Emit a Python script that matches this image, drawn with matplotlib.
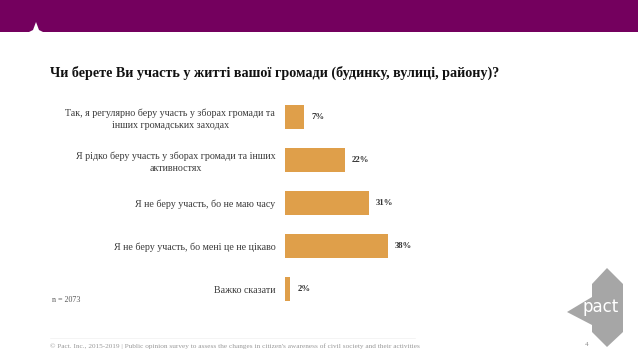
import matplotlib.pyplot as plt
from matplotlib.patches import Polygon, Rectangle

categories = [
    "Так, я регулярно беру участь у зборах громади та\nінших громадських заходах",
    "Я рідко беру участь у зборах громади та інших\nактивностях",
    "Я не беру участь, бо не маю часу",
    "Я не беру участь, бо мені це не цікаво",
    "Важко сказати",
]
values = [7, 22, 31, 38, 2]
value_labels = ["7%", "22%", "31%", "38%", "2%"]

title = "Чи берете Ви участь у житті вашої громади (будинку, вулиці, району)?"
footer = ("© Pact. Inc., 2015-2019 | Public opinion survey to assess the changes "
          "in citizen's awareness of civil society and their activities")

W, H = 638, 359
purple = "#74005E"
bar_col = "#DF9F4A"
serif = ["Liberation Serif", "DejaVu Serif"]

fig = plt.figure(figsize=(W / 100, H / 100), dpi=100)

# background layer in pixel coordinates
bg = fig.add_axes([0, 0, 1, 1])
bg.set_xlim(0, W)
bg.set_ylim(H, 0)
bg.axis("off")
bg.add_patch(Rectangle((0, 0), W, 32, color=purple, lw=0))
bg.add_patch(Polygon([(28, 32.5), (33, 30), (36, 22), (39, 30), (44, 32.5)],
                     closed=True, color="white", lw=0))

# pact logo
logo = [(607, 268), (623, 284), (623, 332), (607, 347), (592, 332),
        (592, 325), (567, 312), (592, 297), (592, 284)]
bg.add_patch(Polygon(logo, closed=True, color="#A6A6A6", lw=0))
bg.text(601, 307, "pact", color="white", fontsize=12, family="DejaVu Sans",
        ha="center", va="center")
bg.text(587, 344, "4", color="#8C8C8C", fontsize=5, family=serif,
        ha="center", va="center")

bg.text(50, 73, title, fontsize=10.2, fontweight="bold", family=serif,
        ha="left", va="center", color="#111111")
bg.text(52, 300, "n = 2073", fontsize=5.8, family=serif, ha="left",
        va="center", color="#555555")
bg.plot([50, 415], [338, 338], color="#F0F0F0", lw=0.5)
bg.text(50, 346, footer, fontsize=5.2, family=serif, ha="left",
        va="center", color="#999999")

# bar chart
x0, y0, aw, ah = 285, 95, 300, 216
ax = fig.add_axes([x0 / W, 1 - (y0 + ah) / H, aw / W, ah / H])
ax.patch.set_alpha(0)
pos = list(range(len(values)))
ax.barh(pos, values, height=0.56, color=bar_col)
ax.set_xlim(0, aw / 2.71)
ax.set_ylim(len(values) - 0.5, -0.5)
ax.set_yticks(pos)
ax.set_yticklabels(categories, fontsize=7.2, family=serif, color="#3A3A3A",
                   multialignment="center", linespacing=1.4)
ax.tick_params(axis="y", length=0, pad=7)
ax.set_xticks([])
for s in ax.spines.values():
    s.set_visible(False)
for p, v, lab in zip(pos, values, value_labels):
    ax.text(v + 2.6, p, lab, fontsize=6.3, fontweight="bold", family=serif,
            ha="left", va="center", color="#333333")

fig.savefig("out.png", dpi=100)
